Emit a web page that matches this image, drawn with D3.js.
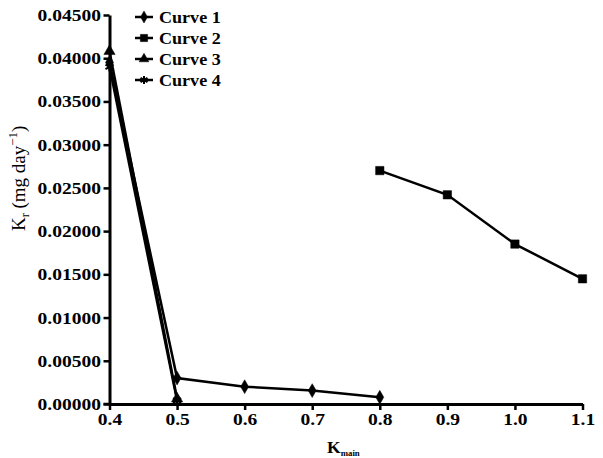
<!DOCTYPE html>
<html>
<head>
<meta charset="utf-8">
<script src="https://cdn.jsdelivr.net/npm/d3@7"></script>
<style>
  body { margin: 0; background: #fff; }
  svg { display: block; }
  text { font-family: "Liberation Serif", "DejaVu Serif", serif; }
</style>
</head>
<body>
<script>
// data
var kmain = [0.4, 0.5, 0.6, 0.7, 0.8, 0.9, 1.0, 1.1];
var curve1X = [0.4, 0.5, 0.6, 0.7, 0.8];
var curve1Y = [0.0395, 0.0030, 0.0020, 0.00155, 0.00078];
var curve2X = [0.8, 0.9, 1.0, 1.1];
var curve2Y = [0.0270, 0.0242, 0.0185, 0.01448];
var curve3X = [0.4, 0.5];
var curve3Y = [0.0408, 0.0006];
var curve4X = [0.4, 0.5];
var curve4Y = [0.0390, 0.0004];
var yTicks = [0, 0.005, 0.01, 0.015, 0.02, 0.025, 0.03, 0.035, 0.04, 0.045];
var names = ["Curve 1", "Curve 2", "Curve 3", "Curve 4"];

var width = 603, height = 458;
var stretch = 1.22; // the original text is a bit wide

var svg = d3.select("body").append("svg")
  .attr("width", width)
  .attr("height", height);

var x = d3.scaleLinear().domain([0.4, 1.1]).range([109.5, 582.5]);
var y = d3.scaleLinear().domain([0, 0.045]).range([404, 15]);

// axes
var yAxis = svg.append("g")
  .attr("transform", "translate(109.5,0)")
  .call(d3.axisLeft(y).tickValues(yTicks).tickFormat(d3.format(".5f")).tickSize(6).tickSizeOuter(0));
var xAxis = svg.append("g")
  .attr("transform", "translate(0,404)")
  .call(d3.axisBottom(x).tickValues(kmain).tickFormat(d3.format(".1f")).tickSize(6).tickSizeOuter(0));

[yAxis, xAxis].forEach(function(ax) {
  ax.select(".domain").attr("stroke", "#000").attr("stroke-width", 3);
  ax.selectAll(".tick line").attr("stroke", "#000").attr("stroke-width", 2.5);
  ax.selectAll(".tick text")
    .attr("fill", "#000")
    .style("font-size", "16px")
    .style("font-weight", "bold");
});
yAxis.selectAll(".tick text")
  .attr("x", -8.5 / stretch)
  .attr("dy", "0.34em")
  .attr("transform", "scale(" + stretch + ",1)");
xAxis.selectAll(".tick text")
  .attr("y", 9)
  .attr("dy", "0.78em")
  .attr("transform", "scale(" + stretch + ",1)");
// small extension left of the origin
svg.append("line")
  .attr("x1", x(0.4) - 6).attr("x2", x(0.4))
  .attr("y1", y(0)).attr("y2", y(0))
  .attr("stroke", "#000").attr("stroke-width", 2.5);

// axis titles
var xt = svg.append("text")
  .attr("transform", "translate(327,453) scale(1.1,1)")
  .style("font-size", "16px").style("font-weight", "bold");
xt.append("tspan").text("K");
xt.append("tspan").attr("dy", 3).style("font-size", "8px").text("main");

var yt = svg.append("text")
  .attr("transform", "translate(25,231) rotate(-90)")
  .style("font-size", "19px");
yt.append("tspan").text("K");
yt.append("tspan").attr("dy", 4).style("font-size", "12px").text("r");
yt.append("tspan").attr("dy", -4).text(" (mg day");
yt.append("tspan").attr("dy", -8).style("font-size", "13px").text("\u22121");
yt.append("tspan").attr("dy", 8).text(")");

// series
var series = [
  { name: names[0], xs: curve1X, ys: curve1Y, sym: d3.symbolDiamond, size: 55 },
  { name: names[1], xs: curve2X, ys: curve2Y, sym: d3.symbolSquare, size: 70 },
  { name: names[2], xs: curve3X, ys: curve3Y, sym: d3.symbolTriangle, size: 55 },
  { name: names[3], xs: curve4X, ys: curve4Y, sym: d3.symbolAsterisk, size: 60, stroke: true }
];

var line = d3.line().x(function(d) { return x(d[0]); }).y(function(d) { return y(d[1]); });

series.forEach(function(s) {
  var pts = s.xs.map(function(v, i) { return [v, s.ys[i]]; });
  svg.append("path")
    .datum(pts)
    .attr("d", line)
    .attr("fill", "none")
    .attr("stroke", "#000")
    .attr("stroke-width", 2.5);
  svg.selectAll(null)
    .data(pts)
    .enter().append("path")
    .attr("transform", function(d) { return "translate(" + x(d[0]) + "," + y(d[1]) + ")"; })
    .attr("d", d3.symbol().type(s.sym).size(s.size))
    .attr("fill", s.stroke ? "none" : "#000")
    .attr("stroke", "#000")
    .attr("stroke-width", s.stroke ? 2 : 0.5);
});

// legend
var legend = svg.append("g").attr("transform", "translate(135,17)");
series.forEach(function(s, i) {
  var g = legend.append("g").attr("transform", "translate(0," + i * 21 + ")");
  g.append("line").attr("x1", 0).attr("x2", 18).attr("y1", 0).attr("y2", 0)
    .attr("stroke", "#000").attr("stroke-width", 2.5);
  g.append("path")
    .attr("transform", "translate(9,0)")
    .attr("d", d3.symbol().type(s.sym).size(s.size * 0.75))
    .attr("fill", s.stroke ? "none" : "#000")
    .attr("stroke", "#000")
    .attr("stroke-width", s.stroke ? 2 : 0.5);
  g.append("text")
    .attr("transform", "translate(24,5.5) scale(1.13,1)")
    .style("font-size", "16px")
    .style("font-weight", "bold")
    .text(s.name);
});
</script>
</body>
</html>
